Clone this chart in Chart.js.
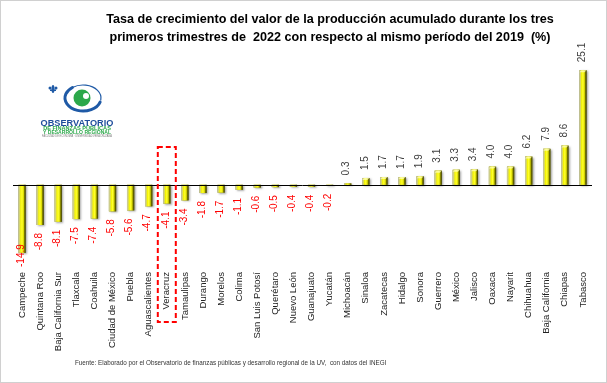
<!DOCTYPE html>
<html><head><meta charset="utf-8">
<script src="https://cdn.jsdelivr.net/npm/chart.js@4/dist/chart.umd.min.js"></script>
<style>html,body{margin:0;padding:0;background:#fff}#w{width:607px;height:383px;position:relative}</style>
</head><body><div id="w"><canvas id="c" width="607" height="383"></canvas></div>
<script>
const states = ["Campeche","Quintana Roo","Baja California Sur","Tlaxcala","Coahuila","Ciudad de México","Puebla","Aguascalientes","Veracruz","Tamaulipas","Durango","Morelos","Colima","San Luis Potosí","Querétaro","Nuevo León","Guanajuato","Yucatán","Michoacán","Sinaloa","Zacatecas","Hidalgo","Sonora","Guerrero","México","Jalisco","Oaxaca","Nayarit","Chihuahua","Baja California","Chiapas","Tabasco"];
const growth = [-14.9,-8.8,-8.1,-7.5,-7.4,-5.8,-5.6,-4.7,-4.1,-3.4,-1.8,-1.7,-1.1,-0.6,-0.5,-0.4,-0.4,-0.2,0.3,1.5,1.7,1.7,1.9,3.1,3.3,3.4,4.0,4.0,6.2,7.9,8.6,25.1];
const titleLines = ["Tasa de crecimiento del valor de la producción acumulado durante los tres","primeros trimestres de  2022 con respecto al mismo período del 2019  (%)"];
const sourceNote = "Fuente: Elaborado por el Observatorio de finanzas públicas y desarrollo regional de la UV,  con datos del INEGI";
const highlighted = "Veracruz";
const logoLines = ["OBSERVATORIO","DE FINANZAS PÚBLICAS","Y DESARROLLO REGIONAL","FACULTAD DE ECONOMÍA · UNIVERSIDAD VERACRUZANA"];

const FONT = "'Liberation Sans', Arial, sans-serif";

const frame = {
  id: 'frame',
  beforeDraw(chart) {
    const c = chart.ctx;
    c.save();
    c.fillStyle = '#fff';
    c.fillRect(0, 0, chart.width, chart.height);
    c.strokeStyle = '#d0d0d0';
    c.lineWidth = 1;
    c.strokeRect(0.5, 0.5, chart.width - 1, chart.height - 1);
    c.restore();
  }
};

const barLook = {
  id: 'barLook',
  afterDatasetsDraw(chart) {
    const c = chart.ctx;
    const meta = chart.getDatasetMeta(0);
    const ys = chart.scales.y;
    const zeroY = ys.getPixelForValue(0);
    c.save();
    meta.data.forEach((el, i) => {
      const p = el.getProps(['x', 'y', 'base', 'width'], true);
      const left = p.x - p.width / 2;
      const top = Math.min(p.y, p.base);
      const h = Math.abs(p.y - p.base);
      c.save();
      c.shadowColor = 'rgba(0,0,0,0.35)';
      c.shadowBlur = 2;
      c.shadowOffsetX = 1.5;
      c.shadowOffsetY = 1;
      c.fillStyle = '#9a9a70';
      c.fillRect(left, top, p.width, h);
      c.restore();
      const g = c.createLinearGradient(left, 0, left + p.width, 0);
      g.addColorStop(0, '#c4c4b0');
      g.addColorStop(0.18, '#d8d860');
      g.addColorStop(0.32, '#f4f400');
      g.addColorStop(0.5, '#ffff30');
      g.addColorStop(0.7, '#dcdc00');
      g.addColorStop(0.85, '#6e6e00');
      g.addColorStop(1, '#3c3c00');
      c.fillStyle = g;
      c.fillRect(left, top, p.width, h);
      if (growth[i] > 0 && h > 2) {
        c.fillStyle = 'rgba(255,255,200,0.7)';
        c.beginPath();
        c.moveTo(left, top + 2);
        c.lineTo(left + 2, top);
        c.lineTo(left + p.width, top);
        c.lineTo(left + p.width - 2, top + 2);
        c.closePath();
        c.fill();
      }
    });
    c.strokeStyle = '#000';
    c.lineWidth = 1;
    c.beginPath();
    c.moveTo(chart.chartArea.left, Math.round(zeroY) + 0.5);
    c.lineTo(chart.chartArea.right, Math.round(zeroY) + 0.5);
    c.stroke();
    c.font = '10px ' + FONT;
    c.textBaseline = 'middle';
    meta.data.forEach((el, i) => {
      const p = el.getProps(['x', 'y'], true);
      const v = growth[i];
      const txt = v.toFixed(1);
      const w = c.measureText(txt).width;
      c.save();
      c.textAlign = 'left';
      if (v < 0) {
        let yEnd = p.y + 8;
        if (yEnd + w > chart.chartArea.bottom) yEnd = chart.chartArea.bottom - w;
        c.translate(p.x - 1, yEnd + w);
        c.rotate(-Math.PI / 2);
        c.fillStyle = '#ff0000';
      } else {
        c.translate(p.x - 1, p.y - 8);
        c.rotate(-Math.PI / 2);
        c.fillStyle = '#404040';
      }
      c.fillText(txt, 0, 0);
      c.restore();
    });
    c.restore();
  }
};

const extras = {
  id: 'extras',
  afterDraw(chart) {
    const c = chart.ctx;
    c.save();
    c.fillStyle = '#000';
    c.font = 'bold 12.6px ' + FONT;
    c.textAlign = 'center';
    c.textBaseline = 'middle';
    c.fillText(titleLines[0], 330, 20);
    c.fillText(titleLines[1], 330, 38);
    c.font = '6.3px ' + FONT;
    c.fillStyle = '#333';
    c.textAlign = 'left';
    c.fillText(sourceNote, 75, 363);
    const xs = chart.scales.x;
    const idx = states.indexOf(highlighted);
    const hx = xs.getPixelForValue(idx);
    c.strokeStyle = '#ff0000';
    c.lineWidth = 2;
    c.setLineDash([5, 3]);
    c.strokeRect(hx - 9, 147, 18, 175);
    c.setLineDash([]);
    // logo: eye
    c.strokeStyle = '#1f5aa6';
    c.lineCap = 'round';
    c.lineWidth = 3;
    c.beginPath();
    c.ellipse(83, 98, 18, 13, 0, 0.1 * Math.PI, 1.3 * Math.PI);
    c.stroke();
    c.lineWidth = 1.2;
    c.beginPath();
    c.ellipse(83, 98, 18, 13, 0, 1.3 * Math.PI, 2.05 * Math.PI);
    c.stroke();
    c.fillStyle = '#2ca84a';
    c.beginPath();
    c.arc(82, 98, 8.5, 0, Math.PI * 2);
    c.fill();
    c.fillStyle = '#fff';
    c.beginPath();
    c.arc(86, 96, 3, 0, Math.PI * 2);
    c.fill();
    // fleur
    c.fillStyle = '#1f5aa6';
    c.beginPath();
    c.ellipse(53, 89, 1.5, 4, 0, 0, Math.PI * 2);
    c.fill();
    c.fillRect(50, 89.5, 6, 1.5);
    c.beginPath();
    c.arc(50, 88, 1.5, 0, Math.PI * 2);
    c.arc(56, 88, 1.5, 0, Math.PI * 2);
    c.fill();
    c.textAlign = 'center';
    c.font = 'bold 9.2px ' + FONT;
    c.fillStyle = '#1f4e9c';
    c.fillText(logoLines[0], 77, 123);
    c.font = 'bold 5.6px ' + FONT;
    c.fillStyle = '#2ca84a';
    c.fillText(logoLines[1], 77, 128.5, 68);
    c.fillText(logoLines[2], 77, 132.5, 68);
    c.font = '3.5px ' + FONT;
    c.fillStyle = '#777';
    c.fillText(logoLines[3], 77, 136, 70);
    c.restore();
  }
};

new Chart(document.getElementById('c'), {
  type: 'bar',
  data: {
    labels: states,
    datasets: [{
      data: growth,
      backgroundColor: '#d4d400',
      borderWidth: 0,
      barPercentage: 0.4,
      categoryPercentage: 1
    }]
  },
  options: {
    responsive: false,
    animation: false,
    layout: { padding: { left: 13, right: 15, top: 57, bottom: 0 } },
    plugins: { legend: { display: false }, title: { display: false }, tooltip: { enabled: false } },
    scales: {
      x: {
        grid: { display: false, drawTicks: false },
        border: { display: false },
        ticks: {
          maxRotation: 90, minRotation: 90, autoSkip: false, padding: 5,
          color: '#222', font: { family: FONT, size: 9.5 }
        },
        afterFit(scale) { scale.height = 116; }
      },
      y: {
        display: false,
        min: -18, max: 28
      }
    }
  },
  plugins: [frame, barLook, extras]
});
</script>
</body></html>
